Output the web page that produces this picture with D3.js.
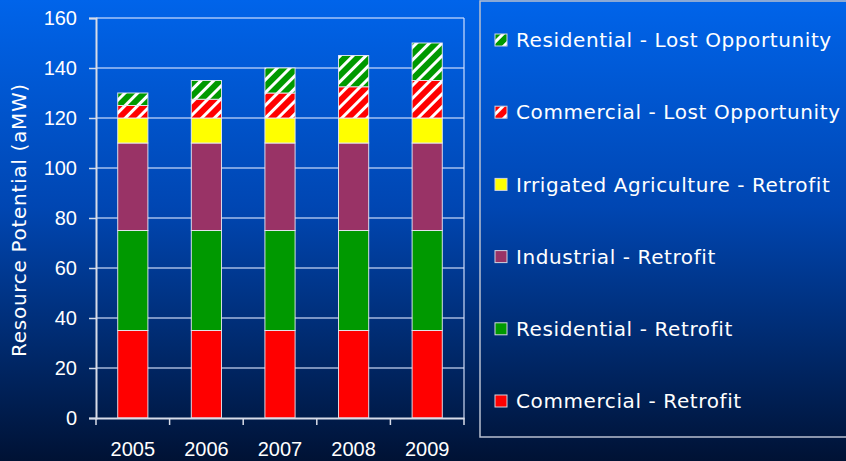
<!DOCTYPE html>
<html>
<head>
    <script src="https://d3js.org/d3.v7.min.js" charset="utf-8"></script>
    <style>
        body { margin: 0; }
        svg { font-family: "DejaVu Sans", Verdana, sans-serif; }
    </style>
</head>
<body>
<script>
    // chart data
    var years = ["2005", "2006", "2007", "2008", "2009"];
    var commercialRetrofit = [35, 35, 35, 35, 35];
    var residentialRetrofit = [40, 40, 40, 40, 40];
    var industrialRetrofit = [35, 35, 35, 35, 35];
    var irrigatedRetrofit = [10, 10, 10, 10, 10];
    var commercialLost = [5, 7.5, 10, 12.5, 15];
    var residentialLost = [5, 7.5, 10, 12.5, 15];
    var yTicks = [0, 20, 40, 60, 80, 100, 120, 140, 160];

    var series = [
        { key: "Commercial - Retrofit", values: commercialRetrofit, color: "#ff0000", hatch: false },
        { key: "Residential - Retrofit", values: residentialRetrofit, color: "#009900", hatch: false },
        { key: "Industrial - Retrofit", values: industrialRetrofit, color: "#993366", hatch: false },
        { key: "Irrigated Agriculture - Retrofit", values: irrigatedRetrofit, color: "#ffff00", hatch: false },
        { key: "Commercial - Lost Opportunity", values: commercialLost, color: "#ff0000", hatch: true },
        { key: "Residential - Lost Opportunity", values: residentialLost, color: "#009900", hatch: true }
    ];

    var W = 846, H = 461;
    var margin = { top: 18, right: 382, bottom: 43, left: 96 };
    var width = W - margin.left - margin.right,
        height = H - margin.top - margin.bottom;

    var svg = d3.select("body").append("svg")
        .attr("width", W)
        .attr("height", H);

    var defs = svg.append("defs");
    var bg = defs.append("linearGradient")
        .attr("id", "bg")
        .attr("x1", 0).attr("y1", 0).attr("x2", 0).attr("y2", 1);
    bg.append("stop").attr("offset", "0%").attr("stop-color", "#0064ea");
    bg.append("stop").attr("offset", "45%").attr("stop-color", "#0046b2");
    bg.append("stop").attr("offset", "100%").attr("stop-color", "#001234");

    // hatch patterns for the lost opportunity series
    series.filter(function (s) { return s.hatch; }).forEach(function (s, i) {
        var p = defs.append("pattern")
            .attr("id", "hatch" + i)
            .attr("patternUnits", "userSpaceOnUse")
            .attr("width", 9).attr("height", 9)
            .attr("patternTransform", "rotate(45)");
        p.append("rect").attr("width", 9).attr("height", 9).attr("fill", s.color);
        p.append("rect").attr("x", 0).attr("width", 3).attr("height", 9).attr("fill", "#ffffff");
        s.fill = "url(#hatch" + i + ")";
    });
    series.forEach(function (s) { if (!s.fill) s.fill = s.color; });

    svg.append("rect")
        .attr("width", W).attr("height", H)
        .attr("fill", "url(#bg)");

    var g = svg.append("g")
        .attr("transform", "translate(" + margin.left + "," + margin.top + ")");

    var x = d3.scaleBand()
        .domain(years)
        .range([0, width])
        .paddingInner(0.59)
        .paddingOuter(0.295);

    var y = d3.scaleLinear()
        .domain([0, 160])
        .range([height, 0]);

    // gridlines
    g.selectAll(".grid")
        .data(yTicks.slice(1))
        .enter().append("line")
        .attr("x1", 0).attr("x2", width)
        .attr("y1", function (d) { return y(d); })
        .attr("y2", function (d) { return y(d); })
        .attr("stroke", "rgba(220,230,255,0.75)")
        .attr("stroke-width", 1.5);

    // plot border right
    g.append("line")
        .attr("x1", width).attr("x2", width)
        .attr("y1", 0).attr("y2", height)
        .attr("stroke", "rgba(220,230,255,0.75)")
        .attr("stroke-width", 1.5);

    var rows = years.map(function (yr, i) {
        var o = { year: yr };
        series.forEach(function (s) { o[s.key] = s.values[i]; });
        return o;
    });

    var stack = d3.stack().keys(series.map(function (s) { return s.key; }));
    var stacked = stack(rows);

    var layer = g.selectAll(".layer")
        .data(stacked)
        .enter().append("g")
        .attr("fill", function (d, i) { return series[i].fill; });

    layer.selectAll("rect")
        .data(function (d) { return d; })
        .enter().append("rect")
        .attr("x", function (d) { return x(d.data.year); })
        .attr("width", x.bandwidth())
        .attr("y", function (d) { return y(d[1]); })
        .attr("height", function (d) { return y(d[0]) - y(d[1]); })
        .attr("stroke", "rgba(235,235,245,0.9)")
        .attr("stroke-width", 1);

    // y axis
    var yAxis = d3.axisLeft(y).tickValues(yTicks).tickSize(7).tickPadding(12);
    var yG = g.append("g").call(yAxis);
    yG.select(".domain").attr("stroke", "#d8dce8").attr("stroke-width", 2);
    yG.selectAll(".tick line").attr("stroke", "#d8dce8").attr("stroke-width", 1.5);
    yG.selectAll(".tick text")
        .attr("fill", "#ffffff")
        .style("font-size", "20px");

    // x axis with ticks at band boundaries
    var xAxis = d3.axisBottom(x).tickSize(0).tickPadding(24);
    var xG = g.append("g")
        .attr("transform", "translate(0," + height + ")")
        .call(xAxis);
    xG.select(".domain").attr("stroke", "#d8dce8").attr("stroke-width", 2);
    xG.selectAll(".tick text")
        .attr("fill", "#ffffff")
        .style("font-size", "20px");
    var step = x.step();
    xG.selectAll(".bound")
        .data(d3.range(years.length + 1))
        .enter().append("line")
        .attr("x1", function (d) { return d * step; })
        .attr("x2", function (d) { return d * step; })
        .attr("y1", 0).attr("y2", 7)
        .attr("stroke", "#d8dce8")
        .attr("stroke-width", 1.5);

    // y label
    svg.append("text")
        .attr("transform", "translate(26,220) rotate(-90)")
        .attr("text-anchor", "middle")
        .attr("fill", "#ffffff")
        .style("font-size", "20px")
        .style("letter-spacing", "0.7px")
        .text("Resource Potential (aMW)");

    // legend
    var lg = svg.append("g");
    lg.append("rect")
        .attr("x", 480).attr("y", 1)
        .attr("width", 380).attr("height", 436)
        .attr("fill", "none")
        .attr("stroke", "#b8c0d0")
        .attr("stroke-width", 1.5);

    var legendOrder = series.slice().reverse();
    var item = lg.selectAll(".item")
        .data(legendOrder)
        .enter().append("g")
        .attr("transform", function (d, i) { return "translate(495," + (40 + i * 72.2) + ")"; });

    item.append("rect")
        .attr("x", 0).attr("y", -6)
        .attr("width", 12).attr("height", 12)
        .attr("fill", function (d) { return d.fill; })
        .attr("stroke", "#d0d4e0")
        .attr("stroke-width", 1);

    item.append("text")
        .attr("x", 21)
        .attr("dy", "0.36em")
        .attr("fill", "#ffffff")
        .style("font-size", "20px")
        .style("letter-spacing", "0.6px")
        .text(function (d) { return d.key; });
</script>
</body>
</html>
